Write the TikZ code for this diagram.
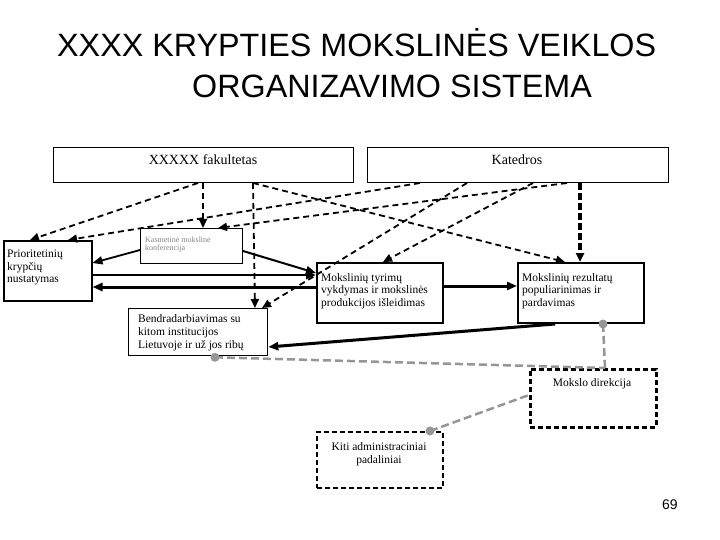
\documentclass[tikz,border=0pt]{standalone}
\usepackage{fontspec}
\setmainfont{Liberation Serif}
\newfontfamily\arialf{Liberation Sans}
\usetikzlibrary{arrows.meta}
\definecolor{gline}{RGB}{150,150,150}
\definecolor{gtext}{RGB}{130,130,130}
\newcommand\boxtextl[1]{\begin{tabular}[t]{@{}l@{}}#1\end{tabular}}
\newcommand\boxtextc[1]{\begin{tabular}[t]{@{}c@{}}#1\end{tabular}}
\begin{document}
\begin{tikzpicture}[x=1pt,y=-1pt,
  box/.style={draw, rectangle, inner sep=0pt, anchor=north west},
  dbox/.style={box, dash pattern=on 5pt off 3pt},
  dar/.style={draw, line width=1.8pt, dash pattern=on 6pt off 4pt, -{Triangle[length=9pt,width=8pt]}},
  sar/.style={draw, line width=2pt, -{Triangle[length=10pt,width=8pt]}},
  gln/.style={draw=gline, line width=2.5pt, dash pattern=on 8pt off 4pt},
  gdot/.style={fill=gline},
  txt/.style={inner sep=0pt, anchor=base west, font=\fontsize{11.5}{12.5}\selectfont},
  ctxt/.style={inner sep=0pt, anchor=base, font=\fontsize{11.5}{13}\selectfont},
  ttl/.style={inner sep=0pt, anchor=base west, font=\arialf\fontsize{32.3}{38}\selectfont},
]
\useasboundingbox (0,0) rectangle (720,540);

% title
\node[ttl] (t1) at (57,57) {XXXX KRYPTIES MOKSLINĖS VEIKLOS};
\node[ttl] (t2) at (192,98) {ORGANIZAVIMO SISTEMA};
\node[inner sep=0pt, anchor=base west, font=\arialf\fontsize{14}{16}\selectfont] (pg) at (662,509) {69};

% boxes
\node[box, line width=1pt, minimum width=300pt, minimum height=35pt] (fak) at (53,147) {};
\node[box, line width=1pt, minimum width=301pt, minimum height=35pt] (kat) at (367,147) {};
\node[box, line width=1.5pt, minimum width=88pt, minimum height=60pt] (prio) at (3,240) {};
\node[box, line width=1pt, minimum width=102pt, minimum height=35pt] (kasm) at (140,228) {};
\node[box, line width=1.8pt, minimum width=126pt, minimum height=60pt] (tyr) at (316,262) {};
\node[box, line width=2pt, minimum width=126pt, minimum height=60pt] (rez) at (517,262) {};
\node[box, line width=1.3pt, minimum width=139pt, minimum height=47pt] (bend) at (128,308) {};
\node[dbox, line width=2.5pt, minimum width=126pt, minimum height=58pt] (dir) at (529,368) {};
\node[dbox, line width=2pt, minimum width=126pt, minimum height=56pt] (kiti) at (316,431) {};

% box texts
\node[inner sep=0pt, anchor=base, font=\fontsize{14}{16}\selectfont] (fakt) at (203,165) {XXXXX fakultetas};
\node[inner sep=0pt, anchor=base, font=\fontsize{14}{16}\selectfont] (katt) at (517,165) {Katedros};
\node[txt, font=\fontsize{11.5}{12.3}\selectfont] (priot) at (7,258) {\boxtextl{Prioritetinių\\krypčių\\nustatymas}};
\node[txt, text=gtext, font=\fontsize{8}{9}\selectfont] (kasmt) at (145,242) {\boxtextl{Kasmetinė mokslinė\\konferencija}};
\node[txt] (tyrt) at (321,281) {\boxtextl{Mokslinių tyrimų\\vykdymas ir mokslinės\\produkcijos išleidimas}};
\node[txt] (rezt) at (522,281) {\boxtextl{Mokslinių rezultatų\\populiarinimas ir\\pardavimas}};
\node[txt, font=\fontsize{11.5}{13}\selectfont] (bendt) at (138,322) {\boxtextl{Bendradarbiavimas su\\kitom institucijos\\Lietuvoje ir už jos ribų}};
\node[ctxt] (dirt) at (592,386) {Mokslo direkcija};
\node[ctxt] (kitit) at (379,450) {\boxtextc{Kiti administraciniai\\padaliniai}};

% dashed arrows from the top boxes
\draw[dar] ([xshift=145pt]fak.south west) -- ([xshift=27pt]prio.north west);
\draw[dar] ([xshift=53pt]kat.south west) -- ([xshift=65pt]prio.north west);
\draw[dar] ([xshift=150pt]fak.south west) -- ([xshift=63pt]kasm.north west);
\draw[dar] ([xshift=200pt]kat.south west) -- ([xshift=78pt]kasm.north west);
\draw[dar] ([xshift=200pt]fak.south west) -- ([xshift=127pt]bend.north west);
\draw[dar] ([xshift=200pt]fak.south west) -- ([xshift=48pt]rez.north west);
\draw[dar] ([xshift=100pt]kat.south west) -- ([xshift=134pt]bend.north west);
\draw[dar] ([xshift=166pt]kat.south west) -- ([xshift=67pt]tyr.north west);
\draw[dar, line width=3.5pt, dash pattern=on 7pt off 3pt] ([xshift=213pt]kat.south west) -- ([xshift=63pt]rez.north west);

% solid arrows
\draw[sar, line width=1.8pt] ([yshift=-22pt]kasm.north west) -- ([yshift=-23pt]prio.north east);
\draw[sar] ([yshift=-23pt]kasm.north east) -- ([yshift=-11pt]tyr.north west);
\draw[sar, line width=2.5pt] ([yshift=-35pt]prio.north east) -- ([yshift=-13pt]tyr.north west);
\draw[sar, line width=3pt] ([yshift=-25pt]tyr.north west) -- ([yshift=-47pt]prio.north east);
\draw[sar, line width=3pt] ([yshift=-24pt]tyr.north east) -- ([yshift=-24pt]rez.north west);
\draw[sar, line width=3pt] ([xshift=38pt]rez.south west) -- ([yshift=-39pt]bend.north east);

% grey links
\coordinate (g1) at ([xshift=87pt,yshift=-1pt]bend.south west);
\coordinate (g2) at ([xshift=86pt]rez.south west);
\coordinate (g3) at ([xshift=114pt]kiti.north west);
\draw[gln] (g1) -- ([xshift=76pt]dir.north west);
\draw[gln] (g2) -- ([xshift=76pt]dir.north west);
\draw[gln] (g3) -- ([yshift=-27pt]dir.north west);
\fill[gdot] (g1) circle (4.5pt);
\fill[gdot] (g2) circle (4.5pt);
\fill[gdot] (g3) circle (4.5pt);
\end{tikzpicture}
\end{document}
